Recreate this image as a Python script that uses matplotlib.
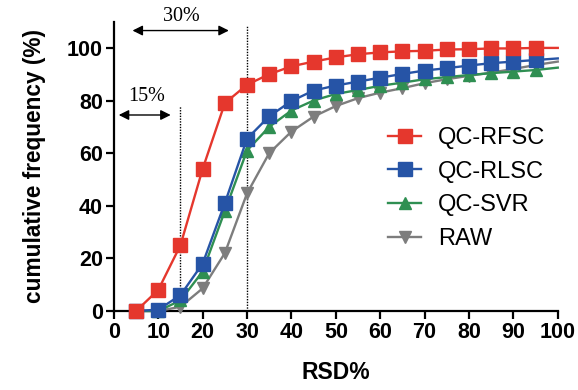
import matplotlib
matplotlib.use("Agg")
import matplotlib.pyplot as plt

# RSD% thresholds (last point at 100 has no visible marker)
rsd = [5, 10, 15, 20, 25, 30, 35, 40, 45, 50, 55, 60, 65, 70, 75, 80, 85, 90, 95, 100]

qc_rfsc = [0, 8, 25, 54, 79, 86, 90, 93, 94.8, 96.4, 97.6, 98.3, 98.7, 98.9, 99.4, 99.5, 99.8, 99.8, 100, 100]
qc_rlsc = [0, 0.5, 6, 18, 41, 65.5, 74, 79.8, 83.8, 85.7, 87.2, 88.7, 90.1, 91.4, 92.3, 93.3, 94.2, 94.8, 95.4, 96]
qc_svr = [0, 0, 4, 15, 38, 61, 70, 76.2, 80, 82.5, 84, 85.6, 86.8, 88.1, 88.9, 89.7, 90.4, 91, 91.6, 92.5]
raw = [0, 0, 1.6, 8.6, 22, 44.7, 60, 68.2, 73.9, 77.9, 80.9, 83, 84.7, 86.6, 88.1, 89.4, 90.6, 92, 93.5, 94.8]

series = [
    ("QC-RFSC", qc_rfsc, "#e5372d", "s", 10),
    ("QC-RLSC", qc_rlsc, "#2654a6", "s", 10),
    ("QC-SVR", qc_svr, "#2f8f52", "^", 9),
    ("RAW", raw, "#7d7d7d", "v", 9),
]

xticks = list(range(0, 101, 10))
yticks = list(range(0, 101, 20))

fig = plt.figure(figsize=(5.78, 3.9), dpi=100)
ax = fig.add_axes([0.197, 0.2026, 0.768, 0.742])

bold = dict(family="Liberation Sans", weight="bold")

# plot in reverse so red sits on top
for name, vals, col, mk, ms in reversed(series):
    ax.plot(rsd, vals, color=col, lw=1.7, marker=mk, ms=ms,
            markevery=list(range(len(rsd) - 1)), label=name,
            clip_on=False, zorder=3)

# dotted reference lines
ax.plot([15, 15], [0, 78], color="k", ls=(0, (1, 1)), lw=1, zorder=2)
ax.plot([30, 30], [0, 108.5], color="k", ls=(0, (1, 1)), lw=1, zorder=2, clip_on=False)

# double arrows and their labels
ax.annotate("", xy=(25.9, 106.6), xytext=(4.2, 106.6),
            arrowprops=dict(arrowstyle="<|-|>", color="k", lw=1, mutation_scale=15,
                            shrinkA=0, shrinkB=0), annotation_clip=False)
ax.text(15.2, 112, "30%", ha="center", va="center", fontsize=14.5, family="Liberation Serif")
ax.annotate("", xy=(12.8, 74.5), xytext=(1.1, 74.5),
            arrowprops=dict(arrowstyle="<|-|>", color="k", lw=1, mutation_scale=15,
                            shrinkA=0, shrinkB=0), annotation_clip=False)
ax.text(7.4, 81.5, "15%", ha="center", va="center", fontsize=14.5, family="Liberation Serif")

ax.set_xlim(0, 100)
ax.set_ylim(0, 110)
ax.set_xticks(xticks)
ax.set_yticks(yticks)
ax.set_xticklabels([str(t) for t in xticks], fontsize=15.5, **bold)
ax.set_yticklabels([str(t) for t in yticks], fontsize=15.5, **bold)
ax.tick_params(direction="out", length=6, width=1.6, pad=2)

for s in ["top", "right"]:
    ax.spines[s].set_visible(False)
for s in ["left", "bottom"]:
    ax.spines[s].set_linewidth(1.6)

ax.set_xlabel("RSD%", fontsize=16.5, labelpad=13, **bold)
ax.set_ylabel("cumulative frequency (%)", fontsize=16.3, labelpad=15, **bold)

handles, labels = ax.get_legend_handles_labels()
leg = ax.legend(handles[::-1], labels[::-1], loc="upper left", bbox_to_anchor=(0.57, 0.71),
                frameon=False, prop={"family": "Liberation Sans", "size": 17},
                handlelength=1.4, handletextpad=0.7, labelspacing=0.5)

fig.savefig("out.png", dpi=100)
